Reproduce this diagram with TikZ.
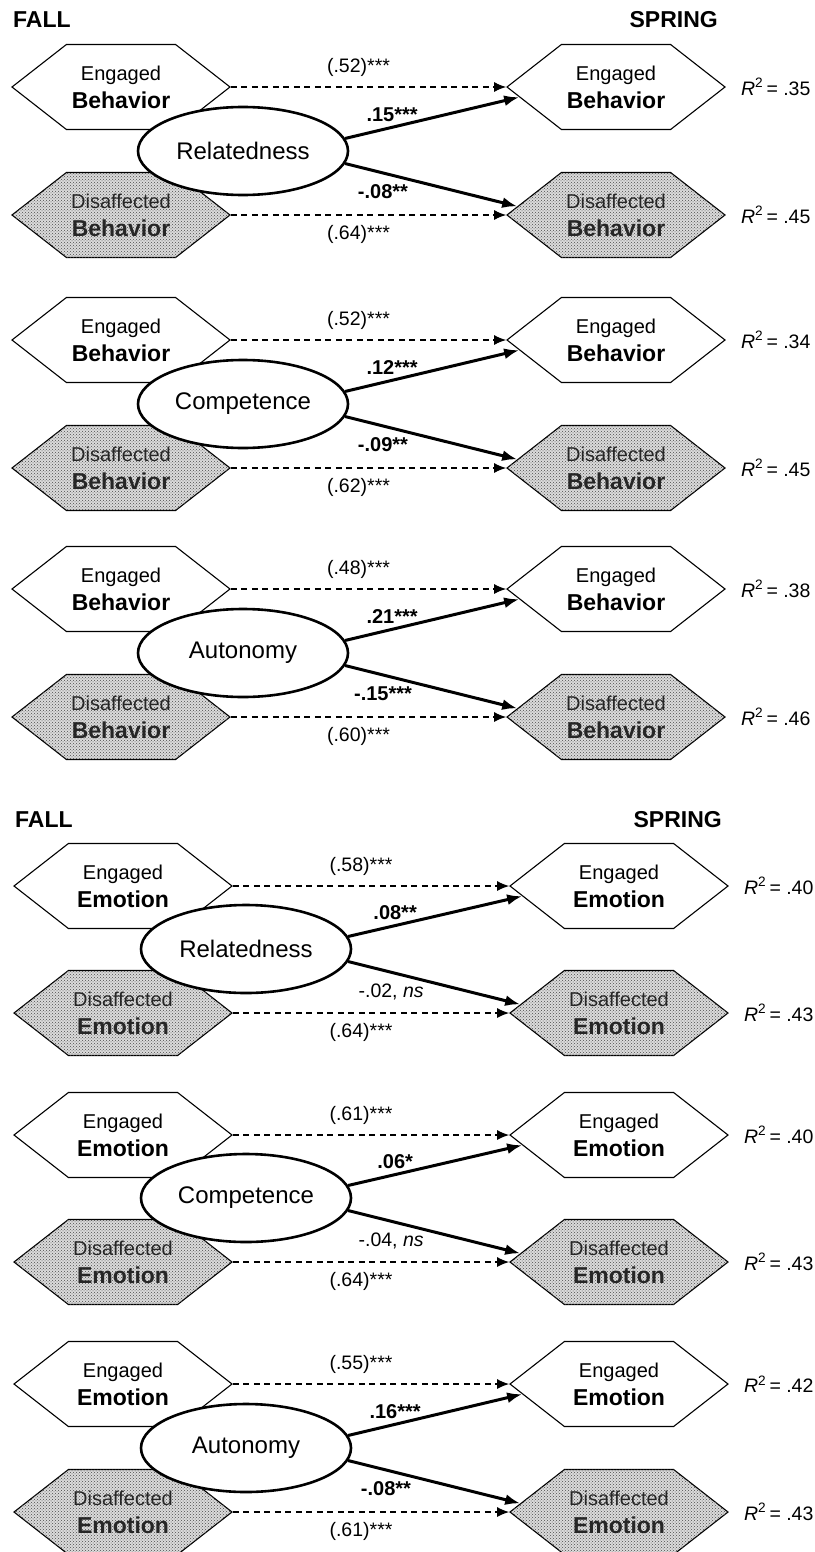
\documentclass[tikz,border=0pt]{standalone}
\usepackage{fontspec}
\setmainfont{Liberation Sans}
\usetikzlibrary{positioning,shapes.symbols,shapes.geometric,arrows.meta,patterns}

\tikzset{
 hexa/.style={signal, signal to=west and east, signal pointer angle=76, draw, line width=1.1pt,
   minimum width=218pt, minimum height=85pt, inner sep=0pt, align=center,
   font=\fontsize{23}{28}\selectfont},
 engbox/.style={hexa, fill=white},
 disbox/.style={hexa, fill=black!14, postaction={pattern=crosshatch dots, pattern color=black!70},
   text=black!85},
 latent/.style={ellipse, draw, line width=2.6pt, fill=white, minimum width=210pt,
   minimum height=88pt, inner sep=0pt, font=\fontsize{24}{28}\selectfont},
 stab/.style={dash pattern=on 6pt off 4.5pt, line width=1.2pt, -{Latex[length=12pt,width=10pt]}},
 cross/.style={line width=3pt, -{Latex[length=15pt,width=11pt]}},
 coef/.style={font=\fontsize{19.5}{22}\selectfont, inner sep=2pt},
 bcoef/.style={coef, font=\fontsize{20}{22}\selectfont\bfseries},
 rsq/.style={font=\fontsize{19.5}{22}\selectfont, inner sep=0pt},
 season/.style={font=\fontsize{23}{26}\selectfont\bfseries, inner sep=0pt},
}
\newcommand{\eng}[1]{{\fontsize{20}{28}\selectfont Engaged}\\\textbf{#1}}
\newcommand{\dis}[1]{{\fontsize{20}{28}\selectfont Disaffected}\\\textbf{#1}}

\begin{document}
\begin{tikzpicture}[x=1pt,y=1pt]
 \useasboundingbox (0,0) rectangle (814,-1552);
 \node[season, anchor=west] (fallA) at (13,-20) {FALL};
 \node[season, anchor=east] (springA) at (718,-20) {SPRING};

 \node[engbox] (le1) at (121,-87) {\eng{Behavior}};
 \node[disbox] (ld1) at (121,-215) {\dis{Behavior}};
 \node[engbox] (re1) at (616,-87) {\eng{Behavior}};
 \node[disbox] (rd1) at (616,-215) {\dis{Behavior}};
 \node[latent] (m1) at (243,-151) {Relatedness};
 \draw[stab] (le1.east) -- node[coef, midway, above=8pt, xshift=-10pt] (s1a) {(.52)***} (re1.west);
 \draw[stab] (ld1.east) -- node[coef, midway, below=8pt, xshift=-10pt] (s1b) {(.64)***} (rd1.west);
 \draw[cross] (m1.7) -- node[bcoef, pos=0.27, above=2pt] (c1a) {.15***} (re1.186);
 \draw[cross] (m1.-7) -- node[bcoef, pos=0.22, below=8pt] (c1b) {-.08**} (rd1.175);
 \node[rsq, right=15pt of re1] (r1a) {\textit{R}\textsuperscript{2}\,= .35};
 \node[rsq, right=15pt of rd1] (r1b) {\textit{R}\textsuperscript{2}\,= .45};

 \node[engbox] (le2) at (121,-340) {\eng{Behavior}};
 \node[disbox] (ld2) at (121,-468) {\dis{Behavior}};
 \node[engbox] (re2) at (616,-340) {\eng{Behavior}};
 \node[disbox] (rd2) at (616,-468) {\dis{Behavior}};
 \node[latent] (m2) at (243,-404) {Competence};
 \draw[stab] (le2.east) -- node[coef, midway, above=8pt, xshift=-10pt] (s2a) {(.52)***} (re2.west);
 \draw[stab] (ld2.east) -- node[coef, midway, below=8pt, xshift=-10pt] (s2b) {(.62)***} (rd2.west);
 \draw[cross] (m2.7) -- node[bcoef, pos=0.27, above=2pt] (c2a) {.12***} (re2.186);
 \draw[cross] (m2.-7) -- node[bcoef, pos=0.22, below=8pt] (c2b) {-.09**} (rd2.175);
 \node[rsq, right=15pt of re2] (r2a) {\textit{R}\textsuperscript{2}\,= .34};
 \node[rsq, right=15pt of rd2] (r2b) {\textit{R}\textsuperscript{2}\,= .45};

 \node[engbox] (le3) at (121,-589) {\eng{Behavior}};
 \node[disbox] (ld3) at (121,-717) {\dis{Behavior}};
 \node[engbox] (re3) at (616,-589) {\eng{Behavior}};
 \node[disbox] (rd3) at (616,-717) {\dis{Behavior}};
 \node[latent] (m3) at (243,-653) {Autonomy};
 \draw[stab] (le3.east) -- node[coef, midway, above=8pt, xshift=-10pt] (s3a) {(.48)***} (re3.west);
 \draw[stab] (ld3.east) -- node[coef, midway, below=8pt, xshift=-10pt] (s3b) {(.60)***} (rd3.west);
 \draw[cross] (m3.7) -- node[bcoef, pos=0.27, above=2pt] (c3a) {.21***} (re3.186);
 \draw[cross] (m3.-7) -- node[bcoef, pos=0.22, below=8pt] (c3b) {-.15***} (rd3.175);
 \node[rsq, right=15pt of re3] (r3a) {\textit{R}\textsuperscript{2}\,= .38};
 \node[rsq, right=15pt of rd3] (r3b) {\textit{R}\textsuperscript{2}\,= .46};

 \node[season, anchor=west] (fallB) at (15,-820) {FALL};
 \node[season, anchor=east] (springB) at (722,-820) {SPRING};

 \node[engbox] (le4) at (123,-886) {\eng{Emotion}};
 \node[disbox] (ld4) at (123,-1013) {\dis{Emotion}};
 \node[engbox] (re4) at (619,-886) {\eng{Emotion}};
 \node[disbox] (rd4) at (619,-1013) {\dis{Emotion}};
 \node[latent] (m4) at (246,-949) {Relatedness};
 \draw[stab] (le4.east) -- node[coef, midway, above=8pt, xshift=-10pt] (s4a) {(.58)***} (re4.west);
 \draw[stab] (ld4.east) -- node[coef, midway, below=8pt, xshift=-10pt] (s4b) {(.64)***} (rd4.west);
 \draw[cross] (m4.7) -- node[bcoef, pos=0.27, above=2pt] (c4a) {.08**} (re4.186);
 \draw[cross] (m4.-7) -- node[coef, pos=0.25, below=8pt] (c4b) {-.02, \textit{ns}} (rd4.175);
 \node[rsq, right=15pt of re4] (r4a) {\textit{R}\textsuperscript{2}\,= .40};
 \node[rsq, right=15pt of rd4] (r4b) {\textit{R}\textsuperscript{2}\,= .43};

 \node[engbox] (le5) at (123,-1135) {\eng{Emotion}};
 \node[disbox] (ld5) at (123,-1262) {\dis{Emotion}};
 \node[engbox] (re5) at (619,-1135) {\eng{Emotion}};
 \node[disbox] (rd5) at (619,-1262) {\dis{Emotion}};
 \node[latent] (m5) at (246,-1198) {Competence};
 \draw[stab] (le5.east) -- node[coef, midway, above=8pt, xshift=-10pt] (s5a) {(.61)***} (re5.west);
 \draw[stab] (ld5.east) -- node[coef, midway, below=8pt, xshift=-10pt] (s5b) {(.64)***} (rd5.west);
 \draw[cross] (m5.7) -- node[bcoef, pos=0.27, above=2pt] (c5a) {.06*} (re5.186);
 \draw[cross] (m5.-7) -- node[coef, pos=0.25, below=8pt] (c5b) {-.04, \textit{ns}} (rd5.175);
 \node[rsq, right=15pt of re5] (r5a) {\textit{R}\textsuperscript{2}\,= .40};
 \node[rsq, right=15pt of rd5] (r5b) {\textit{R}\textsuperscript{2}\,= .43};

 \node[engbox] (le6) at (123,-1384) {\eng{Emotion}};
 \node[disbox] (ld6) at (123,-1512) {\dis{Emotion}};
 \node[engbox] (re6) at (619,-1384) {\eng{Emotion}};
 \node[disbox] (rd6) at (619,-1512) {\dis{Emotion}};
 \node[latent] (m6) at (246,-1448) {Autonomy};
 \draw[stab] (le6.east) -- node[coef, midway, above=8pt, xshift=-10pt] (s6a) {(.55)***} (re6.west);
 \draw[stab] (ld6.east) -- node[coef, midway, below=8pt, xshift=-10pt] (s6b) {(.61)***} (rd6.west);
 \draw[cross] (m6.7) -- node[bcoef, pos=0.27, above=2pt] (c6a) {.16***} (re6.186);
 \draw[cross] (m6.-7) -- node[bcoef, pos=0.22, below=8pt] (c6b) {-.08**} (rd6.175);
 \node[rsq, right=15pt of re6] (r6a) {\textit{R}\textsuperscript{2}\,= .42};
 \node[rsq, right=15pt of rd6] (r6b) {\textit{R}\textsuperscript{2}\,= .43};
\end{tikzpicture}
\end{document}
